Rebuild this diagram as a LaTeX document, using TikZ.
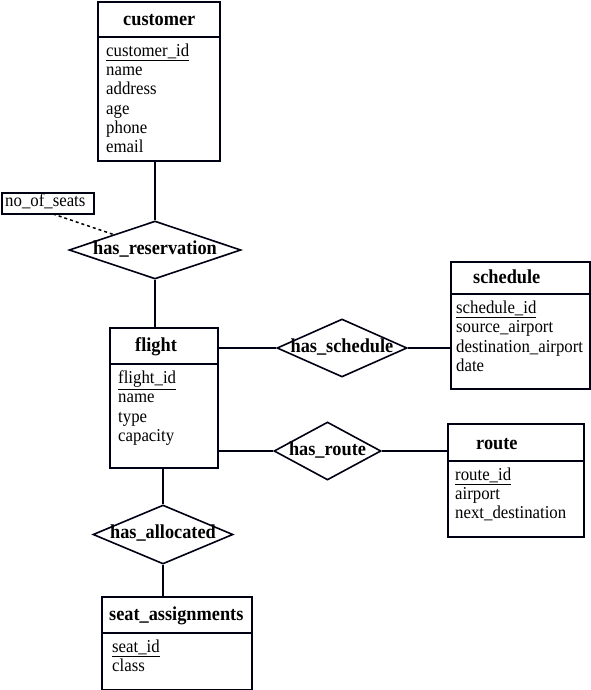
\documentclass[tikz,border=0pt]{standalone}
\usepackage{fontspec}
\setmainfont{Liberation Serif}
\usetikzlibrary{shapes.geometric}
\newcommand\vsc[1]{\scalebox{1}[1.08]{#1}}
\begin{document}
\begin{tikzpicture}[x=1pt,y=-1pt,
  ln/.style={line width=1.6pt, draw=black!92!blue},
  ent/.style={ln, rectangle, inner sep=0pt, anchor=north west},
  rel/.style={ln, diamond, inner sep=0pt},
  ttl/.style={font=\fontsize{18.3}{20}\selectfont\bfseries, anchor=base west, inner sep=0pt},
  attr/.style={font=\fontsize{16.8}{19}\selectfont, anchor=base west, inner sep=0pt},
  rlab/.style={font=\fontsize{18.3}{20}\selectfont\bfseries, inner sep=0pt}]
\useasboundingbox (0,0) rectangle (590,690);
% ---------- entities ----------
% customer
\node[ent, minimum width=122pt, minimum height=159pt] (cust) at (97,1) {};
\draw[ln] (97,37) -- (219,37);
\node[ttl] (custT) at (123,26) {\vsc{customer}};
\foreach \t [count=\i] in {\underline{customer\_id},name,address,age,phone,email}
  \node[attr] (custA\i) at (106,{56.5+19.25*(\i-1)}) {\vsc{\t}};
% flight
\node[ent, minimum width=108pt, minimum height=140pt] (flight) at (109,327) {};
\draw[ln] (109,364) -- (217,364);
\node[ttl] (flightT) at (135,351) {\vsc{flight}};
\foreach \t [count=\i] in {\underline{flight\_id},name,type,capacity}
  \node[attr] (flightA\i) at (118,{383.5+19.25*(\i-1)}) {\vsc{\t}};
% schedule
\node[ent, minimum width=139pt, minimum height=127pt] (sched) at (450,261) {};
\draw[ln] (450,294) -- (589,294);
\node[ttl] (schedT) at (473,283) {\vsc{schedule}};
\foreach \t [count=\i] in {\underline{schedule\_id},source\_airport,destination\_airport,date}
  \node[attr] (schedA\i) at (456,{313.5+19.25*(\i-1)}) {\vsc{\t}};
% route
\node[ent, minimum width=136pt, minimum height=113pt] (route) at (447,423) {};
\draw[ln] (447,461) -- (583,461);
\node[ttl] (routeT) at (476,449) {\vsc{route}};
\foreach \t [count=\i] in {\underline{route\_id},airport,next\_destination}
  \node[attr] (routeA\i) at (455,{480+19.25*(\i-1)}) {\vsc{\t}};
% seat_assignments
\node[ent, minimum width=150pt, minimum height=93pt] (seat) at (101,596) {};
\draw[ln] (101,633) -- (251,633);
\node[ttl] (seatT) at (109,620) {\vsc{seat\_assignments}};
\foreach \t [count=\i] in {\underline{seat\_id},class}
  \node[attr] (seatA\i) at (112,{652.5+19.25*(\i-1)}) {\vsc{\t}};
% no_of_seats attribute
\node[ent, minimum width=92pt, minimum height=21pt] (seats) at (1,192) {};
\node[attr] (seatsT) at (5,206.5) {\vsc{no\_of\_seats}};
% ---------- relationships ----------
\node[rel, minimum width=172pt, minimum height=58pt] (res) at (155,250) {};
\node[rlab] (resT) at (155,249) {\vsc{has\_reservation}};
\node[rel, minimum width=130pt, minimum height=58pt] (hsch) at (342,348) {};
\node[rlab] (hschT) at (342,347) {\vsc{has\_schedule}};
\node[rel, minimum width=107pt, minimum height=58pt] (hrt) at (327.5,451) {};
\node[rlab] (hrtT) at (327.5,450) {\vsc{has\_route}};
\node[rel, minimum width=140pt, minimum height=59pt] (halloc) at (163,534.5) {};
\node[rlab] (hallocT) at (163,533) {\vsc{has\_allocated}};
% ---------- connectors ----------
\coordinate (c1) at (155,160);
\draw[ln] (c1) -- (res.north);
\draw[ln] (res.south) -- (res.south |- flight.north);
\draw[ln] (hsch.west -| flight.east) -- (hsch.west);
\draw[ln] (hsch.east) -- (hsch.east -| sched.west);
\draw[ln] (hrt.west -| flight.east) -- (hrt.west);
\draw[ln] (hrt.east) -- (hrt.east -| route.west);
\draw[ln] (halloc.north |- flight.south) -- (halloc.north);
\draw[ln] (halloc.south) -- (halloc.south |- seat.north);
\coordinate (d1) at (53,214);
\coordinate (d2) at (115,235);
\draw[line width=1.5pt, dash pattern=on 3pt off 3pt] (d1) -- (d2);
\end{tikzpicture}
\end{document}
